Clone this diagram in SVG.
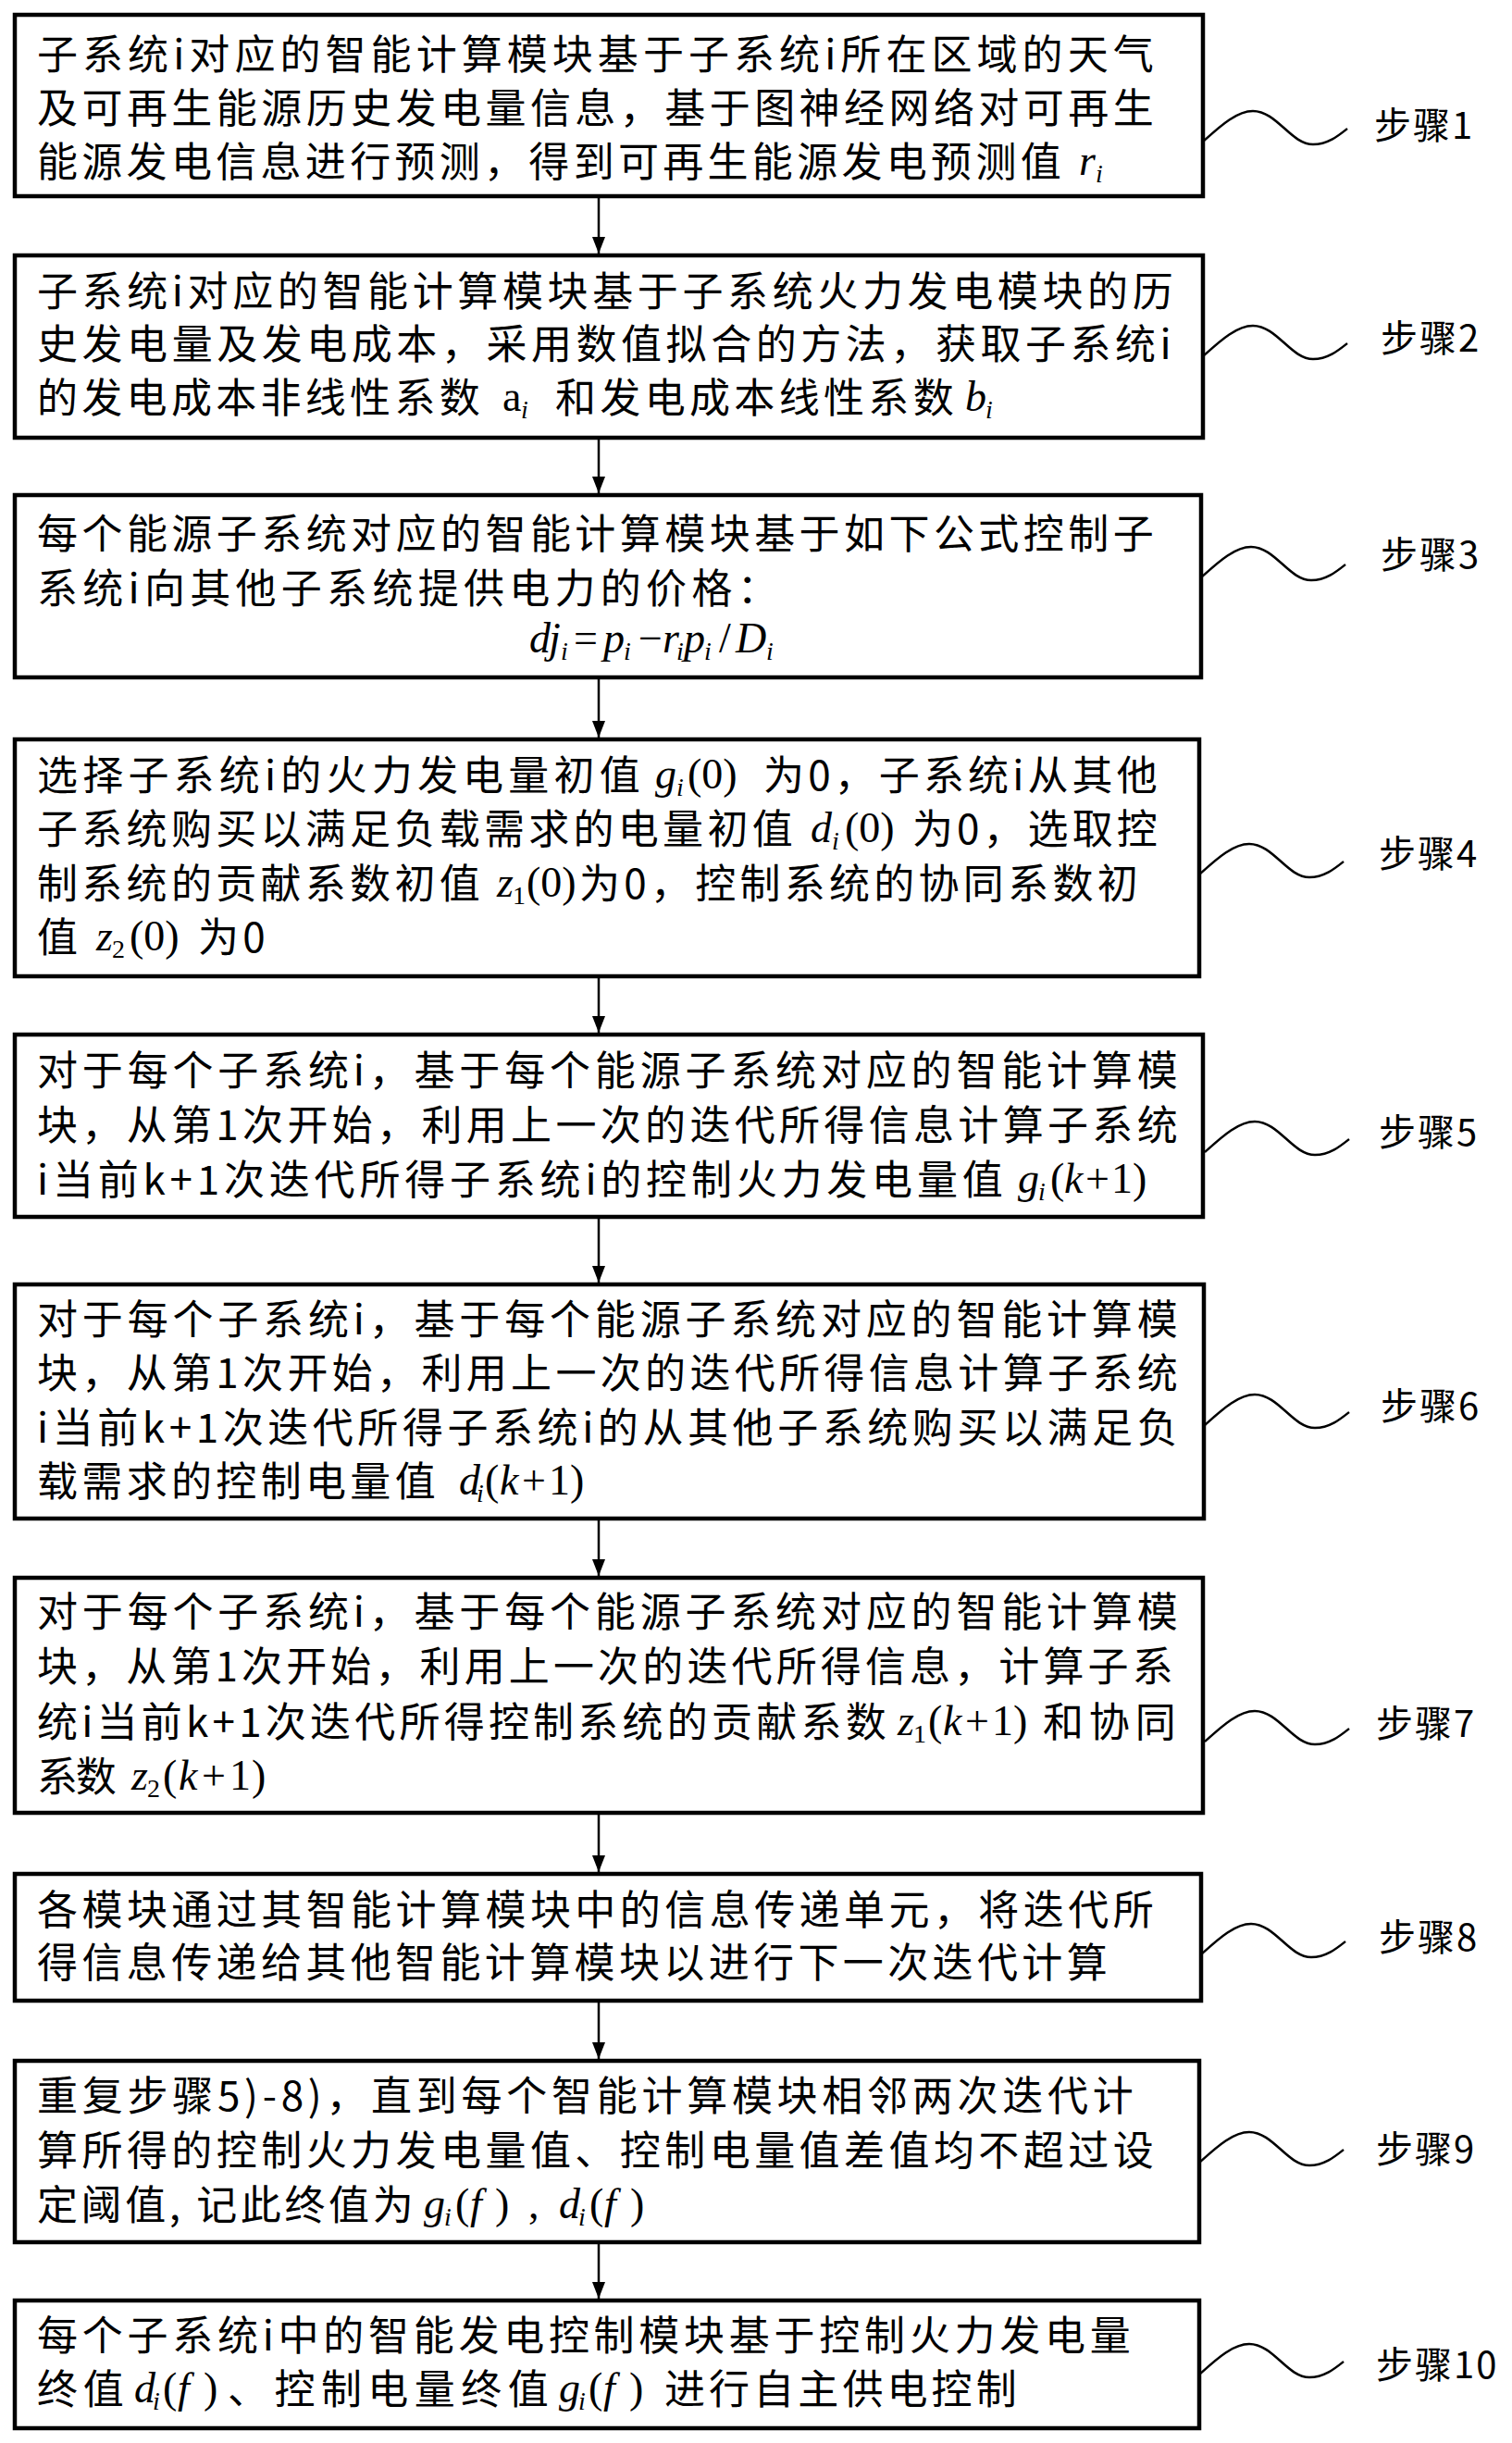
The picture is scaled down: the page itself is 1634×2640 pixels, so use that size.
<svg xmlns="http://www.w3.org/2000/svg" xmlns:xlink="http://www.w3.org/1999/xlink" width="1634" height="2640" viewBox="0 0 1634 2640">
<defs>
<style>
.box{fill:#fff;stroke:#000;stroke-width:4.5}
.t{font-family:"Noto Sans CJK SC","Noto Sans",sans-serif;font-size:44px;letter-spacing:4.3px;fill:#000}
.lb{font-family:"Noto Sans CJK SC","Noto Sans",sans-serif;font-size:40px;letter-spacing:2px;fill:#000}
.mi{font-family:"Liberation Serif","Times New Roman",serif;font-style:italic;font-size:46px;fill:#000}
.mu{font-family:"Liberation Serif","Times New Roman",serif;font-style:normal;font-size:46px;fill:#000}
.sb{font-size:28px}
.wave{fill:none;stroke:#000;stroke-width:2.5}
.conn{stroke:#000;stroke-width:2.5;fill:none}
</style>
<path id="wv" class="wave" d="M0,18 C18,2 36,-15 54,-15 C80,-15 95,21 119,21 C135,21 146,12 156,4"/>
<marker id="ah" markerUnits="userSpaceOnUse" markerWidth="18" markerHeight="14" refX="18" refY="7" orient="auto">
<path d="M0,0 L18,7 L0,14 z" fill="#000"/>
</marker>
</defs>
<rect width="1634" height="2640" fill="#fff"/>

<g id="connectors">
<line class="conn" x1="647" y1="214" x2="647" y2="274" marker-end="url(#ah)"/>
<line class="conn" x1="647" y1="475" x2="647" y2="533" marker-end="url(#ah)"/>
<line class="conn" x1="647" y1="734" x2="647" y2="797" marker-end="url(#ah)"/>
<line class="conn" x1="647" y1="1057" x2="647" y2="1116" marker-end="url(#ah)"/>
<line class="conn" x1="647" y1="1317" x2="647" y2="1386" marker-end="url(#ah)"/>
<line class="conn" x1="647" y1="1643" x2="647" y2="1703" marker-end="url(#ah)"/>
<line class="conn" x1="647" y1="1961" x2="647" y2="2023" marker-end="url(#ah)"/>
<line class="conn" x1="647" y1="2164" x2="647" y2="2225" marker-end="url(#ah)"/>
<line class="conn" x1="647" y1="2425" x2="647" y2="2484" marker-end="url(#ah)"/>
</g>

<g id="step1">
<rect class="box" x="16" y="16" width="1284" height="196"/>
<text class="t" x="40" y="75" textLength="1211" lengthAdjust="spacing">子系统i对应的智能计算模块基于子系统i所在区域的天气</text>
<text class="t" x="40" y="133" textLength="1211" lengthAdjust="spacing">及可再生能源历史发电量信息，基于图神经网络对可再生</text>
<text class="t" x="40" y="191" textLength="1111" lengthAdjust="spacing">能源发电信息进行预测，得到可再生能源发电预测值</text>
<text class="mi"><tspan x="1166" y="189">r</tspan><tspan class="sb" x="1184" y="197">i</tspan></text>
<use xlink:href="#wv" transform="translate(1300,135)"/>
<text class="lb" x="1485" y="150">步骤1</text>
</g>

<g id="step2">
<rect class="box" x="16" y="276" width="1284" height="197"/>
<text class="t" x="40" y="331" textLength="1232" lengthAdjust="spacing">子系统i对应的智能计算模块基于子系统火力发电模块的历</text>
<text class="t" x="40" y="388" textLength="1230" lengthAdjust="spacing">史发电量及发电成本，采用数值拟合的方法，获取子系统i</text>
<text class="t" x="40" y="446" textLength="483" lengthAdjust="spacing">的发电成本非线性系数</text>
<text class="mu"><tspan x="543" y="444">a</tspan><tspan class="sb" x="563" y="452" font-style="italic">i</tspan></text>
<text class="t" x="600" y="446" textLength="435" lengthAdjust="spacing">和发电成本线性系数</text>
<text class="mi"><tspan x="1043" y="444">b</tspan><tspan class="sb" x="1065" y="452">i</tspan></text>
<use xlink:href="#wv" transform="translate(1300,367)"/>
<text class="lb" x="1492" y="380">步骤2</text>
</g>

<g id="step3">
<rect class="box" x="16" y="535" width="1282" height="197"/>
<text class="t" x="40" y="593" textLength="1211" lengthAdjust="spacing">每个能源子系统对应的智能计算模块基于如下公式控制子</text>
<text class="t" x="40" y="652" textLength="805" lengthAdjust="spacing">系统i向其他子系统提供电力的价格：</text>
<text class="mi"><tspan x="572" y="705">d</tspan><tspan x="593" y="705">j</tspan><tspan class="sb" x="606" y="713">i</tspan><tspan class="mu" x="620" y="705">=</tspan><tspan x="652" y="705">p</tspan><tspan class="sb" x="674" y="713">i</tspan><tspan class="mu" x="690" y="705">−</tspan><tspan x="716" y="705">r</tspan><tspan class="sb" x="731" y="713">i</tspan><tspan x="739" y="705">p</tspan><tspan class="sb" x="761" y="713">i</tspan><tspan class="mu" x="777" y="705">/</tspan><tspan x="795" y="705">D</tspan><tspan class="sb" x="828" y="713">i</tspan></text>
<use xlink:href="#wv" transform="translate(1298,606)"/>
<text class="lb" x="1492" y="614">步骤3</text>
</g>

<g id="step4">
<rect class="box" x="16" y="799" width="1280" height="256"/>
<text class="t" x="40" y="854" textLength="656" lengthAdjust="spacing">选择子系统i的火力发电量初值</text>
<text class="mi"><tspan x="708" y="852">g</tspan><tspan class="sb" x="731" y="860">i</tspan><tspan class="mu" x="743" y="852">(0)</tspan></text>
<text class="t" x="825" y="854" textLength="430" lengthAdjust="spacing">为0，子系统i从其他</text>
<text class="t" x="40" y="912" textLength="821" lengthAdjust="spacing">子系统购买以满足负载需求的电量初值</text>
<text class="mi"><tspan x="876" y="910">d</tspan><tspan class="sb" x="899" y="918">i</tspan><tspan class="mu" x="913" y="910">(0)</tspan></text>
<text class="t" x="986" y="912" textLength="269" lengthAdjust="spacing">为0，选取控</text>
<text class="t" x="40" y="971" textLength="483" lengthAdjust="spacing">制系统的贡献系数初值</text>
<text class="mi"><tspan x="537" y="969">z</tspan><tspan class="sb mu" x="554" y="977">1</tspan><tspan class="mu" x="569" y="969">(0)</tspan></text>
<text class="t" x="626" y="971" textLength="608" lengthAdjust="spacing">为0，控制系统的协同系数初</text>
<text class="t" x="40" y="1029">值</text>
<text class="mi"><tspan x="104" y="1027">z</tspan><tspan class="sb mu" x="121" y="1035">2</tspan><tspan class="mu" x="140" y="1027">(0)</tspan></text>
<text class="t" x="214" y="1029">为0</text>
<use xlink:href="#wv" transform="translate(1296,927)"/>
<text class="lb" x="1490" y="937">步骤4</text>
</g>

<g id="step5">
<rect class="box" x="16" y="1118" width="1284" height="197"/>
<text class="t" x="40" y="1173" textLength="1237" lengthAdjust="spacing">对于每个子系统i，基于每个能源子系统对应的智能计算模</text>
<text class="t" x="40" y="1232" textLength="1237" lengthAdjust="spacing">块，从第1次开始，利用上一次的迭代所得信息计算子系统</text>
<text class="t" x="40" y="1291" textLength="1048" lengthAdjust="spacing">i当前k+1次迭代所得子系统i的控制火力发电量值</text>
<text class="mi"><tspan x="1100" y="1289">g</tspan><tspan class="sb" x="1122" y="1297">i</tspan><tspan class="mu" x="1135" y="1289">(</tspan><tspan x="1150" y="1289">k</tspan><tspan class="mu" x="1173" y="1289">+</tspan><tspan class="mu" x="1201" y="1289">1</tspan><tspan class="mu" x="1224" y="1289">)</tspan></text>
<use xlink:href="#wv" transform="translate(1302,1227)"/>
<text class="lb" x="1490" y="1238">步骤5</text>
</g>

<g id="step6">
<rect class="box" x="16" y="1388" width="1285" height="253"/>
<text class="t" x="40" y="1442" textLength="1237" lengthAdjust="spacing">对于每个子系统i，基于每个能源子系统对应的智能计算模</text>
<text class="t" x="40" y="1500" textLength="1237" lengthAdjust="spacing">块，从第1次开始，利用上一次的迭代所得信息计算子系统</text>
<text class="t" x="40" y="1559" textLength="1237" lengthAdjust="spacing">i当前k+1次迭代所得子系统i的从其他子系统购买以满足负</text>
<text class="t" x="40" y="1617" textLength="435" lengthAdjust="spacing">载需求的控制电量值</text>
<text class="mi"><tspan x="496" y="1615">d</tspan><tspan class="sb" x="515" y="1623">i</tspan><tspan class="mu" x="524" y="1615">(</tspan><tspan x="540" y="1615">k</tspan><tspan class="mu" x="564" y="1615">+</tspan><tspan class="mu" x="593" y="1615">1</tspan><tspan class="mu" x="616" y="1615">)</tspan></text>
<use xlink:href="#wv" transform="translate(1302,1522)"/>
<text class="lb" x="1492" y="1534">步骤6</text>
</g>

<g id="step7">
<rect class="box" x="16" y="1705" width="1284" height="254"/>
<text class="t" x="40" y="1758" textLength="1237" lengthAdjust="spacing">对于每个子系统i，基于每个能源子系统对应的智能计算模</text>
<text class="t" x="40" y="1817" textLength="1232" lengthAdjust="spacing">块，从第1次开始，利用上一次的迭代所得信息，计算子系</text>
<text class="t" x="40" y="1877" textLength="922" lengthAdjust="spacing">统i当前k+1次迭代所得控制系统的贡献系数</text>
<text class="mi"><tspan x="970" y="1875">z</tspan><tspan class="sb mu" x="987" y="1883">1</tspan><tspan class="mu" x="1003" y="1875">(</tspan><tspan x="1019" y="1875">k</tspan><tspan class="mu" x="1043" y="1875">+</tspan><tspan class="mu" x="1072" y="1875">1</tspan><tspan class="mu" x="1095" y="1875">)</tspan></text>
<text class="t" x="1127" y="1877" textLength="148" lengthAdjust="spacing">和协同</text>
<text class="t" x="40" y="1936" textLength="90" lengthAdjust="spacing">系数</text>
<text class="mi"><tspan x="142" y="1934">z</tspan><tspan class="sb mu" x="159" y="1942">2</tspan><tspan class="mu" x="176" y="1934">(</tspan><tspan x="193" y="1934">k</tspan><tspan class="mu" x="218" y="1934">+</tspan><tspan class="mu" x="248" y="1934">1</tspan><tspan class="mu" x="272" y="1934">)</tspan></text>
<use xlink:href="#wv" transform="translate(1302,1864)"/>
<text class="lb" x="1487" y="1877">步骤7</text>
</g>

<g id="step8">
<rect class="box" x="16" y="2025" width="1282" height="137"/>
<text class="t" x="40" y="2080" textLength="1211" lengthAdjust="spacing">各模块通过其智能计算模块中的信息传递单元，将迭代所</text>
<text class="t" x="40" y="2137" textLength="1161" lengthAdjust="spacing">得信息传递给其他智能计算模块以进行下一次迭代计算</text>
<use xlink:href="#wv" transform="translate(1298,2094)"/>
<text class="lb" x="1490" y="2108">步骤8</text>
</g>

<g id="step9">
<rect class="box" x="16" y="2227" width="1280" height="196"/>
<text class="t" x="40" y="2281" textLength="1189" lengthAdjust="spacing">重复步骤5)-8)，直到每个智能计算模块相邻两次迭代计</text>
<text class="t" x="40" y="2340" textLength="1211" lengthAdjust="spacing">算所得的控制火力发电量值、控制电量值差值均不超过设</text>
<text class="t" x="40" y="2399" textLength="411" lengthAdjust="spacing">定阈值, 记此终值为</text>
<text class="mi"><tspan x="458" y="2397">g</tspan><tspan class="sb" x="480" y="2405">i</tspan><tspan class="mu" x="492" y="2397">(</tspan><tspan x="508" y="2397">f</tspan><tspan class="mu" x="535" y="2397">)</tspan><tspan class="mu" x="571" y="2397">,</tspan><tspan x="604" y="2397">d</tspan><tspan class="sb" x="625" y="2405">i</tspan><tspan class="mu" x="637" y="2397">(</tspan><tspan x="653" y="2397">f</tspan><tspan class="mu" x="681" y="2397">)</tspan></text>
<use xlink:href="#wv" transform="translate(1296,2319)"/>
<text class="lb" x="1487" y="2337">步骤9</text>
</g>

<g id="step10">
<rect class="box" x="16" y="2486" width="1280" height="138"/>
<text class="t" x="40" y="2540" textLength="1186" lengthAdjust="spacing">每个子系统i中的智能发电控制模块基于控制火力发电量</text>
<text class="t" x="40" y="2598" textLength="98" lengthAdjust="spacing">终值</text>
<text class="mi"><tspan x="145" y="2596">d</tspan><tspan class="sb" x="165" y="2604">i</tspan><tspan class="mu" x="176" y="2596">(</tspan><tspan x="192" y="2596">f</tspan><tspan class="mu" x="220" y="2596">)</tspan></text>
<text class="t" x="246" y="2598" textLength="351" lengthAdjust="spacing">、控制电量终值</text>
<text class="mi"><tspan x="604" y="2596">g</tspan><tspan class="sb" x="625" y="2604">i</tspan><tspan class="mu" x="636" y="2596">(</tspan><tspan x="652" y="2596">f</tspan><tspan class="mu" x="680" y="2596">)</tspan></text>
<text class="t" x="718" y="2598" textLength="385" lengthAdjust="spacing">进行自主供电控制</text>
<use xlink:href="#wv" transform="translate(1296,2548)"/>
<text class="lb" x="1487" y="2570">步骤10</text>
</g>
</svg>
